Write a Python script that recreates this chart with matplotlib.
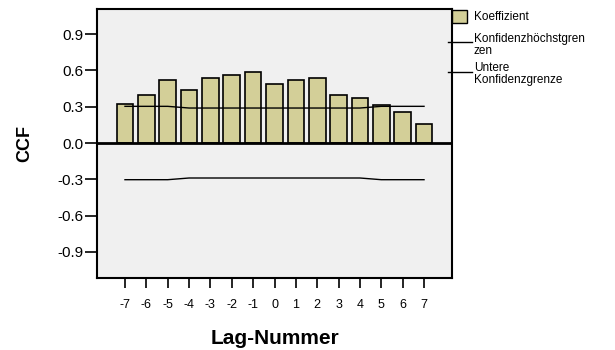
import numpy as np
import matplotlib
matplotlib.use("Agg")
import matplotlib.pyplot as plt
from matplotlib.patches import Rectangle
from matplotlib.lines import Line2D

# lag numbers and cross correlation coefficients
lags = [-7, -6, -5, -4, -3, -2, -1, 0, 1, 2, 3, 4, 5, 6, 7]
ccf = [0.32, 0.40, 0.52, 0.435, 0.535, 0.565, 0.584, 0.488, 0.518, 0.535,
       0.40, 0.37, 0.315, 0.254, 0.155]
upper = [0.303, 0.303, 0.303, 0.289, 0.289, 0.289, 0.289, 0.289, 0.289,
         0.289, 0.289, 0.289, 0.303, 0.303, 0.303]
lower = [-v for v in upper]
yticks = [-0.9, -0.6, -0.3, 0.0, 0.3, 0.6, 0.9]
legend_labels = ['Koeffizient', 'Konfidenzhöchstgren\nzen', 'Untere\nKonfidenzgrenze']

bar_color = '#d3cf98'
plt.rcParams['font.family'] = ['Liberation Sans', 'DejaVu Sans']

W, H = 615, 350
fig = plt.figure(figsize=(W/100, H/100), dpi=100)
ax = fig.add_axes([97/W, 1 - 278/H, (452-97)/W, (278-9)/H])
ax.set_facecolor('#f0f0f0')

ax.bar(lags, ccf, width=0.78, color=bar_color, edgecolor='black', linewidth=1.2, zorder=2)
ax.plot(lags, upper, color='black', linewidth=1, zorder=3)
ax.plot(lags, lower, color='black', linewidth=1, zorder=3)
ax.axhline(0, color='black', linewidth=2, zorder=4)

ax.set_xlim(-8.31, 8.31)
ax.set_ylim(-1.115, 1.107)
ax.set_xticks(lags)
ax.set_xticklabels([str(l) for l in lags])
ax.set_yticks(yticks)
ax.set_yticklabels(['%.1f' % v for v in yticks])
ax.tick_params(axis='x', length=7, width=1.2, labelsize=9, pad=8)
ax.tick_params(axis='y', length=9, width=1.2, labelsize=11, pad=1)
for s in ax.spines.values():
    s.set_linewidth(1.5)

ax.set_xlabel('Lag-Nummer', fontsize=15, fontweight='bold', labelpad=13)
ax.set_ylabel('CCF', fontsize=13, fontweight='bold', labelpad=17)

# legend drawn by hand in pixel positions
def fx(x):
    return x / W

def fy(y):
    return 1 - y / H

fig.patches.append(Rectangle((fx(452), fy(23)), 15/W, 13/H, transform=fig.transFigure,
                             facecolor=bar_color, edgecolor='black', linewidth=1))
for y in (42, 72):
    fig.lines.append(Line2D([fx(448), fx(472)], [fy(y), fy(y)], transform=fig.transFigure,
                            color='black', linewidth=1))
fig.text(fx(474), fy(17), legend_labels[0], fontsize=8.5, va='center', ha='left')
fig.text(fx(474), fy(45), legend_labels[1], fontsize=8.5, va='center', ha='left', linespacing=0.95)
fig.text(fx(474), fy(74), legend_labels[2], fontsize=8.5, va='center', ha='left', linespacing=0.95)

fig.savefig('out.png', dpi=100)
